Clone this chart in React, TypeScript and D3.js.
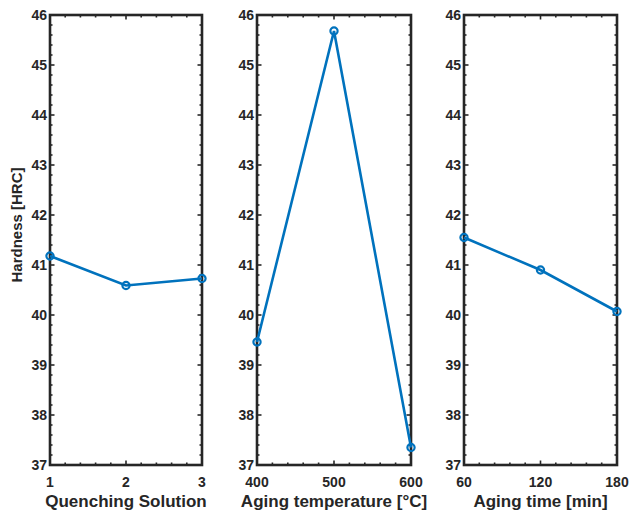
import React from 'react';
import * as d3 from 'd3';

const W = 629;
const H = 514;
const BLUE = '#0072BD';
const AXIS = '#262626';
const FONT = 'Arial, "Liberation Sans", Helvetica, sans-serif';

// values
const quenchingSolution = [1, 2, 3];
const hardnessQuench = [41.18, 40.59, 40.73];
const agingTemp = [400, 500, 600];
const hardnessTemp = [39.46, 45.68, 37.35];
const agingTime = [60, 120, 180];
const hardnessTime = [41.55, 40.9, 40.07];

const yTicks = [37, 38, 39, 40, 41, 42, 43, 44, 45, 46];

const panels = [
  { left: 50, right: 202, xs: quenchingSolution, ys: hardnessQuench, domain: [1, 3], ticks: [1, 2, 3], label: 'Quenching Solution' },
  { left: 257, right: 411, xs: agingTemp, ys: hardnessTemp, domain: [400, 600], ticks: [400, 500, 600], label: 'Aging temperature [°C]' },
  { left: 464, right: 617, xs: agingTime, ys: hardnessTime, domain: [60, 180], ticks: [60, 120, 180], label: 'Aging time [min]' },
];

const top = 15;
const bottom = 465;

const y = d3.scaleLinear().domain([37, 46]).range([bottom, top]);

const Panel = ({ p }: { p: any }) => {
  const x = d3.scaleLinear().domain(p.domain).range([p.left, p.right]);
  const line = d3.line<number>()
    .x((_, i) => x(p.xs[i]))
    .y(d => y(d));
  // minor ticks: 10 divisions over the x domain, 5 per unit on y
  const step = (p.domain[1] - p.domain[0]) / 10;
  const xMinor = d3.range(0, 11).map(i => p.domain[0] + i * step);
  const yMinor = d3.range(0, 46).map(i => 37 + i * 0.2);
  const major = 4.5;
  const minor = 2.5;

  return (
    <g>
      {/* y ticks, left and right, pointing inward */}
      {yMinor.map((v, i) => {
        const len = i % 5 === 0 ? major : minor;
        return (
          <g key={'y' + i}>
            <line x1={p.left} x2={p.left + len} y1={y(v)} y2={y(v)} stroke={AXIS} strokeWidth={1.6} />
            <line x1={p.right} x2={p.right - len} y1={y(v)} y2={y(v)} stroke={AXIS} strokeWidth={1.6} />
          </g>
        );
      })}
      {xMinor.map((v, i) => {
        const len = i % 5 === 0 ? major : minor;
        return (
          <g key={'x' + i}>
            <line x1={x(v)} x2={x(v)} y1={bottom} y2={bottom - len} stroke={AXIS} strokeWidth={1.6} />
            <line x1={x(v)} x2={x(v)} y1={top} y2={top + len} stroke={AXIS} strokeWidth={1.6} />
          </g>
        );
      })}
      <rect x={p.left} y={top} width={p.right - p.left} height={bottom - top} fill="none" stroke={AXIS} strokeWidth={2.6} />

      {yTicks.map(v => (
        <text key={v} x={p.left - 3} y={y(v)} dy="0.36em" textAnchor="end"
          fontFamily={FONT} fontWeight="bold" fontSize={14} fill={AXIS}>{v}</text>
      ))}
      {p.ticks.map((v: number) => (
        <text key={v} x={x(v)} y={bottom + 17} dy="0.36em" textAnchor="middle"
          fontFamily={FONT} fontWeight="bold" fontSize={14} fill={AXIS}>{v}</text>
      ))}
      <text x={(p.left + p.right) / 2} y={bottom + 36} dy="0.36em" textAnchor="middle"
        fontFamily={FONT} fontWeight="bold" fontSize={17} fill={AXIS}>{p.label}</text>

      <path d={line(p.ys) || ''} fill="none" stroke={BLUE} strokeWidth={2.6} />
      {p.ys.map((v: number, i: number) => (
        <circle key={i} cx={x(p.xs[i])} cy={y(v)} r={3.6} fill="none" stroke={BLUE} strokeWidth={2.2} />
      ))}
    </g>
  );
};

export default function App() {
  return (
    <svg width={W} height={H} style={{ position: 'absolute', left: 0, top: 0, background: '#fff' }}>
      {panels.map((p, i) => <Panel key={i} p={p} />)}
      <text transform={`translate(17,${(top + bottom) / 2 - 15}) rotate(-90)`} dy="0.36em" textAnchor="middle"
        fontFamily={FONT} fontWeight="bold" fontSize={15} fill={AXIS}>Hardness [HRC]</text>
    </svg>
  );
}
